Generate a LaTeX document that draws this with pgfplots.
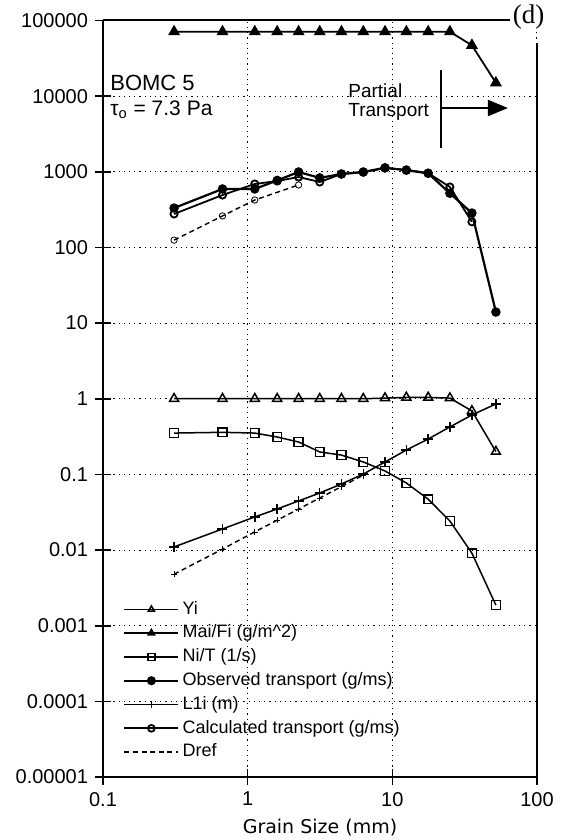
\documentclass[border=0pt]{standalone}
\usepackage{fontspec}
\setmainfont{Liberation Sans}
\newfontfamily\labelfont{DejaVu Sans}
\newfontfamily\seriffont{Liberation Serif}
\usepackage{pgfplots}
\pgfplotsset{compat=1.18}
\usetikzlibrary{arrows.meta}

\begin{document}
\begin{tikzpicture}
\begin{axis}[
  at={(0,0)}, anchor=south west,
  scale only axis, clip=false,
  width=217pt, height=378.25pt,
  xmode=log, ymode=log,
  xmin=0.1, xmax=100, ymin=1e-5, ymax=1e5,
  axis x line*=bottom, axis y line*=left,
  axis line style={line width=1pt},
  xtick={0.1,1,10,100}, xticklabels={0.1,1,10,100},
  ytick={1e-5,1e-4,1e-3,1e-2,1e-1,1,10,100,1000,1e4,1e5},
  yticklabels={0.00001,0.0001,0.001,0.01,0.1,1,10,100,1000,10000,100000},
  xminorticks=false, yminorticks=false,
  tick align=center, major tick length=8pt,
  tick style={black, line width=0.8pt},
  grid=major,
  major grid style={black, line width=0.5pt, dash pattern=on 0.6pt off 2pt},
  ticklabel style={font=\fontsize{10}{12}\selectfont},
  xlabel={Grain Size (mm)},
  xlabel style={at={(axis description cs:0.5,-0.0674)}, anchor=center,
    font=\labelfont\fontsize{9.5}{11}\selectfont},
  legend style={at={(0.032,0.2432)}, anchor=north west, draw=none, fill=none,
    font=\fontsize{9}{10}\selectfont,
    nodes={inner sep=1.55pt, text height=6.8pt, text depth=2pt},
    row sep=0pt},
  legend cell align=left,
  legend image code/.code={\draw[mark repeat=2,mark phase=2,#1,mark size=1.7pt]
    plot coordinates {(0pt,0pt)(13.5pt,0pt)(27pt,0pt)};},
]
% upper dashed transport curve (reference diameter)
\addplot[black, line width=0.7pt, dash pattern=on 2.5pt off 1.8pt, mark=o, mark size=1.6pt,
  mark options={solid, line width=0.4pt}, forget plot]
  coordinates {(0.31,125)(0.67,261)(1.12,424)(2.25,670)};
% lower dashed Dref line
\addplot[black, line width=0.7pt, dash pattern=on 2.5pt off 1.8pt, mark=+, mark size=1.6pt,
  mark options={solid, line width=0.3pt}, forget plot]
  coordinates {(0.31,0.0048)(0.67,0.0103)(1.12,0.0174)(1.6,0.0248)(2.25,0.0349)
               (3.15,0.0488)(4.45,0.069)(6.3,0.0977)};

\addplot[black, line width=0.75pt, mark=triangle, mark size=2.6pt, mark options={solid, fill=white}]
  coordinates {(0.31,1)(0.67,1)(1.12,1)(1.6,1)(2.25,1)(3.15,1)(4.45,1)(6.3,1)(8.9,1.02)
               (12.5,1.04)(17.7,1.04)(25,1.02)(35.5,0.69)(52,0.2)};
\addlegendentry{Yi}
\addplot[black, line width=0.9pt, mark=triangle*, mark size=2.6pt, mark options={solid, fill=black}]
  coordinates {(0.31,71000)(0.67,71000)(1.12,71000)(1.6,71000)(2.25,71000)(3.15,71000)
               (4.45,71000)(6.3,71000)(8.9,71000)(12.5,71000)(17.7,71000)(25,71000)
               (35.5,47000)(52,15000)};
\addlegendentry{Mai/Fi (g/m\^{}2)}
\addplot[black, line width=0.75pt, mark=square, mark size=2.2pt, mark options={solid, fill=white}]
  coordinates {(0.31,0.352)(0.67,0.36)(1.12,0.352)(1.6,0.312)(2.25,0.268)(3.15,0.198)
               (4.45,0.18)(6.3,0.146)(8.9,0.111)(12.5,0.077)(17.7,0.047)(25,0.0242)
               (35.5,0.0091)(52,0.00187)};
\addlegendentry{Ni/T (1/s)}
\addplot[black, line width=1.1pt, mark=*, mark size=1.8pt, mark options={solid, fill=black}]
  coordinates {(0.31,332)(0.67,593)(1.12,593)(1.6,770)(2.25,994)(3.15,830)(4.45,935)
               (6.3,994)(8.9,1130)(12.5,1050)(17.7,955)(25,520)(35.5,285)(52,14)};
\addlegendentry{Observed transport (g/ms)}
\addplot[black, line width=0.75pt, mark=+, mark size=2.5pt, mark options={solid}]
  coordinates {(0.31,0.011)(0.67,0.019)(1.12,0.0274)(1.6,0.0349)(2.25,0.0446)(3.15,0.0568)
               (4.45,0.0747)(6.3,0.101)(8.9,0.146)(12.5,0.21)(17.7,0.294)(25,0.424)
               (35.5,0.61)(52,0.853)};
\addlegendentry{L1i (m)}
\addplot[black, line width=0.9pt, mark=o, mark size=1.8pt, mark options={solid, fill=white}]
  coordinates {(0.31,277)(0.67,493)(1.12,690)(1.6,755)(2.25,853)(3.15,733)(4.45,935)
               (6.3,990)(8.9,1120)(12.5,1060)(17.7,960)(25,630)(35.5,218)};
\addlegendentry{Calculated transport (g/ms)}
\addlegendimage{black, line width=0.7pt, dash pattern=on 2.5pt off 1.8pt}
\addlegendentry{Dref}

% frame pieces: top edge and right edge
\draw[line width=1pt] (rel axis cs:0,1) -- (rel axis cs:0.938,1);
\draw[line width=1pt] (rel axis cs:1,0) -- (rel axis cs:1,0.97);
\node[anchor=west, inner sep=0.5pt, fill=white, font=\seriffont\fontsize{13.5}{14}\selectfont]
  at (rel axis cs:0.941,1.004) {(d)};

% run description
\node[anchor=west, inner sep=0pt, font=\fontsize{11}{12}\selectfont]
  at (rel axis cs:0.016,0.917) {BOMC 5};
\node[anchor=west, inner sep=0pt, font=\fontsize{10.5}{12}\selectfont]
  at (rel axis cs:0.016,0.8817) {τ\textsubscript{o} = 7.3 Pa};

% partial transport marker
\node[anchor=west, inner sep=0pt, align=left, font=\fontsize{9.5}{9.5}\selectfont]
  at (rel axis cs:0.5645,0.8916) {Partial\\Transport};
\draw[line width=1.3pt] (rel axis cs:0.779,0.9346) -- (rel axis cs:0.779,0.8315);
\draw[line width=1.1pt, -{Triangle[length=10pt,width=8pt]}]
  (rel axis cs:0.779,0.8843) -- (rel axis cs:0.933,0.8843);
\end{axis}
\pgfresetboundingbox
\path[use as bounding box] (-51.5pt,-31.5pt) rectangle (230pt,388.5pt);
\end{tikzpicture}
\end{document}
